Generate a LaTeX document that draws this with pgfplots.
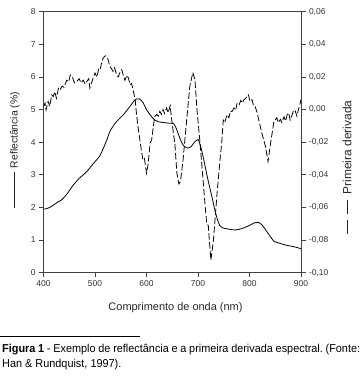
\documentclass[border=0pt]{standalone}
\usepackage{fontspec}
\setmainfont{Liberation Sans}
\newfontfamily\narrowfont[FakeStretch=0.95]{Liberation Sans}
\usepackage{pgfplots}
\pgfplotsset{compat=1.18}

\pgfplotstableread{
nm r
400 1.95
405 1.96
412 2.00
420 2.08
428 2.17
435 2.23
445 2.40
458 2.69
470 2.90
484 3.10
497 3.35
510 3.60
523 4.07
529 4.33
540 4.60
555 4.84
568 5.10
575 5.25
580 5.32
586 5.33
593 5.22
600 5.00
608 4.82
616 4.68
625 4.62
635 4.60
646 4.58
652 4.58
657 4.45
663 4.20
668 4.00
673 3.88
680 3.82
687 3.87
693 4.00
700 4.08
705 3.88
710 3.55
714 3.25
720 2.80
727 2.33
733 1.90
737 1.67
742 1.45
747 1.38
755 1.35
765 1.32
772 1.31
780 1.33
790 1.38
800 1.45
810 1.53
818 1.54
825 1.45
832 1.30
840 1.12
847 0.97
855 0.92
865 0.87
875 0.83
885 0.80
893 0.77
900 0.73
}\refl

\pgfplotstableread{
nm d
400 0.0018
403 0.0040
405 -0.0002
409 0.0050
412 0.0020
416 0.0090
419 0.0080
422 0.0110
425 0.0070
429 0.0130
432 0.0120
436 0.0144
440 0.0136
445 0.0180
449 0.0170
452 0.0212
456 0.0200
460 0.0164
465 0.0172
469 0.0190
473 0.0164
477 0.0180
481 0.0156
484 0.0172
488 0.0190
490 0.0132
494 0.0170
497 0.0200
500 0.0224
504 0.0200
507 0.0250
510 0.0244
513 0.0290
516 0.0316
520 0.0330
523 0.0326
526 0.0300
529 0.0264
532 0.0250
535 0.0234
538 0.0256
542 0.0212
545 0.0200
549 0.0230
552 0.0244
555 0.0210
558 0.0180
562 0.0210
565 0.0192
568 0.0152
571 0.0160
574 0.0120
578 0.0060
581 -0.0042
585 -0.0140
590 -0.0248
593 -0.0308
596 -0.0300
600 -0.0390
603 -0.0340
607 -0.0206
610 -0.0186
613 -0.0110
616 -0.0042
620 -0.0030
623 -0.0040
626 -0.0010
629 -0.0030
632 0.0000
635 -0.0024
639 0.0010
642 -0.0020
646 0.0024
649 -0.0064
652 -0.0140
655 -0.0206
659 -0.0390
663 -0.0456
666 -0.0440
671 -0.0308
678 -0.0064
684 0.0140
690 0.0228
694 0.0182
698 0.0000
704 -0.0206
709 -0.0400
714 -0.0596
717 -0.0698
720 -0.0710
722 -0.0800
725 -0.0922
730 -0.0800
737 -0.0514
743 -0.0300
746 -0.0206
749 -0.0064
752 -0.0080
756 -0.0032
760 -0.0050
763 -0.0010
766 -0.0012
770 0.0010
773 -0.0004
776 0.0040
780 0.0030
783 0.0056
786 0.0040
789 0.0060
793 0.0070
796 0.0090
798 0.0090
801 0.0050
805 0.0060
808 0.0020
811 0.0018
815 -0.0020
818 -0.0064
824 -0.0144
831 -0.0226
836 -0.0318
840 -0.0226
844 -0.0144
847 -0.0080
850 -0.0064
853 -0.0050
856 -0.0080
860 -0.0060
863 -0.0080
867 -0.0044
870 -0.0070
873 -0.0032
876 -0.0020
879 -0.0064
883 -0.0030
886 -0.0002
889 -0.0010
892 -0.0040
895 0.0000
897 0.0020
900 0.0060
}\deriv

\begin{document}
\begin{tikzpicture}[x=1bp,y=1bp]
\path[use as bounding box] (0,0) rectangle (364,-376);
\begin{axis}[
  at={(43.5bp,-11.7bp)}, anchor=north west,
  scale only axis, width=257.5bp, height=261bp,
  xmin=400, xmax=900, ymin=0, ymax=8,
  xtick={400,500,...,900}, ytick={0,1,...,8},
  xtick pos=bottom, ytick pos=left, tick align=outside,
  major tick length=4.5bp,
  axis line style={black!75, line width=0.9pt},
  every tick/.style={black!75, line width=0.8pt},
  tick label style={font=\fontsize{8.5}{10}\selectfont, text=black!80},
  /pgf/number format/assume math mode=true,
]
\addplot[black, line width=0.8pt, smooth, tension=0.4] table[x=nm, y=r] {\refl};
\end{axis}
\begin{axis}[
  at={(43.5bp,-11.7bp)}, anchor=north west,
  scale only axis, width=257.5bp, height=261bp,
  xmin=400, xmax=900, ymin=-0.10, ymax=0.06,
  axis x line=none, axis y line*=right,
  ytick={-0.10,-0.08,-0.06,-0.04,-0.02,0,0.02,0.04,0.06},
  scaled y ticks=false,
  tick align=outside, major tick length=4.5bp,
  axis line style={black!75, line width=0.9pt, -},
  every tick/.style={black!75, line width=0.8pt},
  tick label style={font=\fontsize{8.5}{10}\selectfont, text=black!80},
  yticklabel style={/pgf/number format/.cd, fixed, fixed zerofill, precision=2, use comma, assume math mode=true},
]
\addplot[black, line width=0.8pt, dash pattern=on 6.5bp off 2.5bp] table[x=nm, y=d] {\deriv};
\end{axis}
\node[rotate=90, font=\fontsize{10.4}{12}\selectfont, text=black!85, inner sep=0] at (15,-150)
  {\rule[0.3em]{36bp}{0.8bp}\hspace{4bp}Reflectância (\%)};
\node[rotate=90, font=\fontsize{12}{14}\selectfont, text=black!85, inner sep=0] at (347,-167.5)
  {\rule[0.3em]{14bp}{0.8bp}\hspace{6bp}\rule[0.3em]{14bp}{0.8bp}\hspace{6bp}Primeira derivada};
\node[font=\fontsize{11}{13}\selectfont, text=black!85] at (175.5,-308) {Comprimento de onda (nm)};
\draw[line width=0.7pt] (0,-336) -- (140,-336);
\node[anchor=north west, inner sep=0, text width=358bp, align=justify,
  font=\narrowfont\fontsize{11.5}{15}\selectfont] at (2,-344)
  {\frenchspacing\textbf{Figura 1} - Exemplo de reflectância e a primeira derivada espectral. (Fonte:\linebreak Han \& Rundquist, 1997).};
\end{tikzpicture}
\end{document}
